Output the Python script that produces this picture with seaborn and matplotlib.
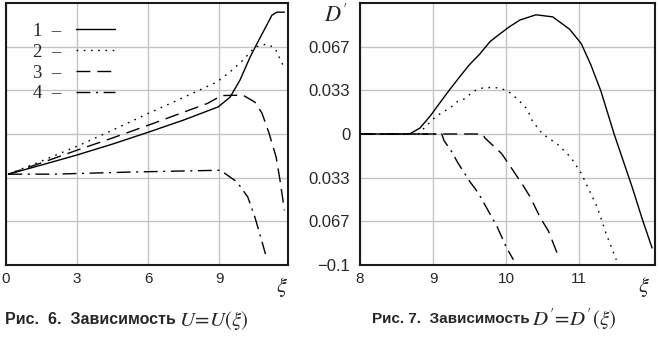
import matplotlib
matplotlib.use("Agg")
import matplotlib.pyplot as plt
from matplotlib.font_manager import FontProperties
import pandas as pd
import seaborn as sns

# ---------------- data ----------------
# Fig. 6: U = U(xi)
u1_x = [0.1, 1.5, 3.0, 4.5, 6.0, 7.5, 8.95, 9.45, 9.87, 10.3, 10.6, 11.0, 11.22, 11.43, 11.75]
u1_y = [2.08, 2.29, 2.52, 2.77, 3.04, 3.32, 3.62, 3.84, 4.23, 4.76, 5.08, 5.49, 5.72, 5.79, 5.79]
u2_x = [0.1, 1.5, 3.0, 4.5, 6.0, 7.5, 8.9, 9.45, 10.0, 10.5, 11.0, 11.35, 11.75]
u2_y = [2.08, 2.38, 2.72, 3.09, 3.47, 3.84, 4.19, 4.42, 4.69, 4.99, 5.06, 4.97, 4.50]
u3_x = [0.1, 1.5, 3.0, 4.5, 6.0, 7.5, 8.5, 9.1, 10.0, 10.5, 10.8, 11.1, 11.4, 11.56, 11.75]
u3_y = [2.08, 2.34, 2.63, 2.91, 3.20, 3.50, 3.70, 3.88, 3.89, 3.73, 3.48, 3.02, 2.47, 1.95, 1.25]
u4_x = [0.1, 2.0, 5.36, 9.05, 9.75, 10.2, 10.5, 10.7, 10.95]
u4_y = [2.08, 2.08, 2.13, 2.17, 1.90, 1.56, 1.10, 0.73, 0.25]

# Fig. 7: D' = D'(xi)
d1_x = [8.0, 8.5, 8.68, 8.82, 8.96, 9.09, 9.23, 9.37, 9.5, 9.64, 9.78, 9.92, 10.05, 10.19,
        10.41, 10.64, 10.87, 11.03, 11.16, 11.3, 11.48, 11.73, 11.86, 12.0]
d1_y = [0.0, 0.0, 0.0, 0.0045, 0.0136, 0.0235, 0.034, 0.044, 0.053, 0.061, 0.0705, 0.0766,
        0.082, 0.087, 0.091, 0.0894, 0.080, 0.069, 0.053, 0.0326, 0.0, -0.041, -0.064, -0.087]
d2_x = [8.0, 8.8, 9.0, 9.11, 9.23, 9.34, 9.44, 9.55, 9.67, 9.81, 9.92, 10.03, 10.15, 10.29,
        10.36, 10.5, 10.7, 10.89, 11.03, 11.14, 11.25, 11.37, 11.51]
d2_y = [0.0, 0.0, 0.0114, 0.016, 0.0197, 0.025, 0.027, 0.0326, 0.035, 0.0356, 0.035, 0.0326,
        0.027, 0.019, 0.0099, 0.0, -0.0076, -0.018, -0.030, -0.043, -0.056, -0.076, -0.096]
d3_x = [8.0, 9.68, 9.71, 9.94, 10.05, 10.23, 10.33, 10.47, 10.58, 10.7]
d3_y = [0.0, 0.0, -0.003, -0.015, -0.024, -0.039, -0.048, -0.064, -0.074, -0.091]
d4_x = [8.0, 9.12, 9.15, 9.25, 9.34, 9.5, 9.62, 9.78, 9.88, 10.0, 10.1]
d4_y = [0.0, 0.0, -0.005, -0.013, -0.022, -0.036, -0.045, -0.061, -0.071, -0.086, -0.096]

legend_labels = ["1  –", "2  –", "3  –", "4  –"]
u_xticks = [0, 3, 6, 9]
u_yticks = [1, 2, 3, 4, 5]
d_xticks = [8, 9, 10, 11]
d_yticks = [0.0667, 0.0333, 0.0, -0.0333, -0.0667, -0.1]
d_yticklabels = ["0.067", "0.033", "0", "0.033", "0.067", "\u22120.1"]

# ---------------- styling ----------------
sns.set_style("white")
plt.rcParams["font.family"] = ["Liberation Sans", "DejaVu Sans"]
plt.rcParams["mathtext.fontset"] = "stix"

styles = ["-", (0, (1.2, 4.0)), (0, (10, 5)), (0, (10, 4, 1.5, 4))]
W, H = 659, 338
fig = plt.figure(figsize=(W / 100, H / 100), dpi=100)
axL = fig.add_axes([6 / W, 1 - 265 / H, 282 / W, 262 / H])
axR = fig.add_axes([360 / W, 1 - 265 / H, 295 / W, 262 / H])

U = [(u1_x, u1_y), (u2_x, u2_y), (u3_x, u3_y), (u4_x, u4_y)]
D = [(d1_x, d1_y), (d2_x, d2_y), (d3_x, d3_y), (d4_x, d4_y)]

for (xs, ys), ls, lab in zip(U, styles, legend_labels):
    df = pd.DataFrame({"x": xs, "y": ys})
    sns.lineplot(data=df, x="x", y="y", ax=axL, color="black", lw=1.0,
                 linestyle=ls, estimator=None, sort=False, label=lab)
for (xs, ys), ls in zip(D, styles):
    df = pd.DataFrame({"x": xs, "y": ys})
    sns.lineplot(data=df, x="x", y="y", ax=axR, color="black", lw=1.0,
                 linestyle=ls, estimator=None, sort=False)

grid_kw = dict(color="#c4c4c4", lw=1.0)
for ax in (axL, axR):
    ax.set_xlabel("")
    ax.set_ylabel("")
    ax.grid(True, **grid_kw)
    ax.set_axisbelow(True)
    for sp in ax.spines.values():
        sp.set_visible(True)
        sp.set_color("#1a1a1a")
        sp.set_linewidth(1.5)
    ax.tick_params(length=0)

axL.set_xlim(0, 11.9)
axL.set_ylim(0, 6)
axL.set_xticks(u_xticks)
axL.set_xticklabels([str(t) for t in u_xticks], fontsize=11)
axL.set_yticks(u_yticks)
axL.set_yticklabels([])
axL.tick_params(axis="x", pad=5)

axR.set_xlim(8, 12.04)
axR.set_ylim(-0.1, 0.1)
axR.set_xticks(d_xticks)
axR.set_xticklabels([str(t) for t in d_xticks], fontsize=11)
axR.set_yticks(d_yticks)
axR.set_yticklabels(d_yticklabels, fontsize=12)
axR.tick_params(axis="x", pad=5)
axR.tick_params(axis="y", pad=7)

leg = axL.legend(loc="upper left", bbox_to_anchor=(0.095, 0.925), frameon=False,
                 markerfirst=False, handlelength=2.1, handletextpad=0.8,
                 labelspacing=0.2, borderpad=0, borderaxespad=0,
                 prop=FontProperties(family="Liberation Serif", size=13.5))

# axis symbols
fig.text(282 / W, 1 - 287 / H, r"$\xi$", fontsize=16, ha="center", va="center")
fig.text(644 / W, 1 - 287 / H, r"$\xi$", fontsize=16, ha="center", va="center")
fig.text(336 / W, 1 - 16 / H, r"$D'$", fontsize=16, ha="center", va="center")

# captions
fig.text(5 / W, 1 - 320 / H, "Рис.  6.  Зависимость", fontsize=11.5, fontweight="bold",
         ha="left", va="center")
fig.text(179 / W, 1 - 320 / H, r"$U\!=\!U(\xi)$", fontsize=15, ha="left", va="center")
fig.text(372 / W, 1 - 319 / H, "Рис. 7.  Зависимость", fontsize=11, fontweight="bold",
         ha="left", va="center")
fig.text(532 / W, 1 - 319 / H, r"$D'\!=\!D'(\xi)$", fontsize=15,
         ha="left", va="center")

fig.savefig("out.png", dpi=100)
